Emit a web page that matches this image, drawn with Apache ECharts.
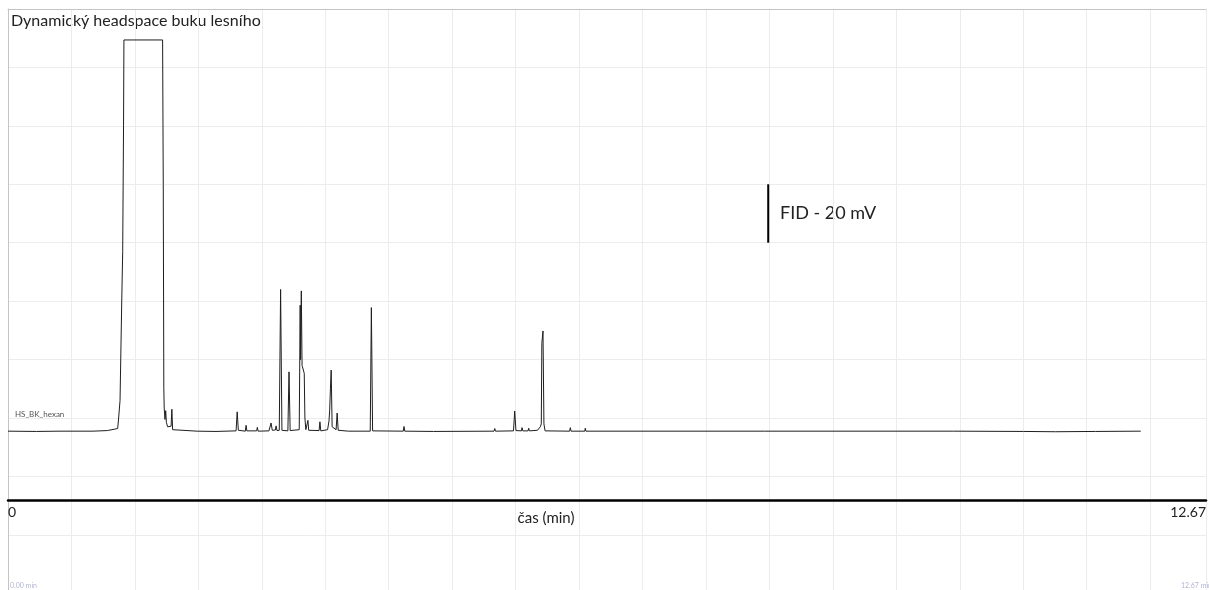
<!DOCTYPE html>
<html>
<head>
<meta charset="utf-8">
<script src="https://cdn.jsdelivr.net/npm/echarts@6/dist/echarts.min.js"></script>
<style>
html,body{margin:0;padding:0;background:#fff;}
#chart{width:1209px;height:590px;}
</style>
</head>
<body>
<div id="chart"></div>
<script>
// ---- data (time in min, FID signal in mV) ----
const timeMin = [
  0.000, 0.300, 0.550, 0.900, 1.050, 1.130, 1.160, 1.170, 1.185, 1.195, 1.203, 1.213, 1.222, 1.226,
  1.635, 1.642, 1.648, 1.652, 1.660, 1.668, 1.675, 1.688, 1.725, 1.733, 1.741, 1.755,
  2.000, 2.200, 2.412, 2.424, 2.436, 2.450, 2.510, 2.518, 2.526, 2.630, 2.637, 2.645,
  2.760, 2.782, 2.795, 2.828, 2.835, 2.845, 2.869, 2.883, 2.897, 2.960, 2.972, 2.984,
  3.080, 3.090, 3.094, 3.102, 3.110, 3.120, 3.126, 3.133, 3.140, 3.150, 3.165, 3.172, 3.180,
  3.290, 3.299, 3.308, 3.380, 3.395, 3.402, 3.410, 3.418, 3.428, 3.470, 3.481, 3.492,
  3.600, 3.831, 3.843, 3.856, 4.180, 4.188, 4.196, 4.500,
  5.140, 5.148, 5.156, 5.346, 5.359, 5.372, 5.430, 5.436, 5.445, 5.500, 5.507, 5.515,
  5.600, 5.630, 5.640, 5.646, 5.658, 5.668, 5.680, 5.940, 5.947, 5.955, 6.100, 6.105, 6.112,
  7.000, 8.000, 9.000, 10.000, 10.740, 11.080, 11.500, 11.980
];
const signalMv = [
  15.5, 15.4, 15.5, 15.5, 15.7, 16.2, 16.4, 20.0, 26.0, 45.0, 60.0, 77.0, 120.0, 149.4,
  149.4, 100.0, 30.0, 23.4, 19.5, 22.5, 18.5, 17.0, 17.2, 23.0, 16.0, 15.5,
  15.5, 15.4, 15.6, 22.1, 15.8, 15.9, 15.5, 17.5, 15.6, 15.6, 16.8, 15.5,
  15.6, 18.3, 15.8, 15.9, 17.3, 15.7, 15.8, 64.0, 15.8, 15.6, 35.8, 15.7,
  16.0, 58.6, 40.0, 63.5, 38.0, 37.5, 37.5, 35.3, 20.0, 16.0, 16.5, 19.2, 15.8,
  15.7, 18.7, 15.6, 16.0, 19.0, 22.7, 30.0, 36.4, 17.0, 16.0, 21.7, 15.8,
  15.5, 15.5, 57.8, 15.6, 15.5, 17.1, 15.5, 15.4,
  15.5, 16.4, 15.5, 15.6, 22.4, 15.7, 15.6, 16.7, 15.6, 15.6, 16.5, 15.6,
  15.8, 17.0, 18.0, 45.6, 49.8, 18.0, 15.6, 15.5, 16.7, 15.5, 15.5, 16.5, 15.5,
  15.5, 15.5, 15.5, 15.5, 15.4, 15.3, 15.4, 15.5
];
const scaleBarTime = 8.04;
const scaleBarMv = [80, 100];
const axisTicks = [0, 12.67];

const chart = echarts.init(document.getElementById('chart'), null, {renderer:'canvas'});
const font = 'Lato, "Open Sans", sans-serif';
const trace = timeMin.map((t, i) => [t, signalMv[i]]);
const bar = scaleBarMv.map(v => [scaleBarTime, v]);

// plot area: top 9px, bottom at 590px; 20 mV per grid division of ~58.43px
const gridTop = 9, gridHeight = 581, divPx = 58.43, mvPerDiv = 20;
const yMax = 160;
const yMin = yMax - gridHeight / divPx * mvPerDiv;

chart.setOption({
  animation: false,
  backgroundColor: '#fff',
  grid: {left: 8, right: 0, top: gridTop, height: gridHeight, containLabel: false},
  xAxis: [
    {
      type: 'value', min: axisTicks[0], max: axisTicks[1], interval: axisTicks[1],
      position: 'bottom', offset: -90,
      axisLine: {show: true, onZero: false, lineStyle: {color: '#000', width: 2.5}},
      axisTick: {show: false},
      splitLine: {show: false},
      axisLabel: {
        show: true, margin: 5, color: '#222', fontFamily: font, fontSize: 14,
        showMinLabel: true, showMaxLabel: true,
        alignMinLabel: 'left', alignMaxLabel: 'right',
        formatter: v => String(Math.round(v * 100) / 100)
      }
    },
    {
      type: 'value', min: 0, max: 12.67, interval: 0.6711, position: 'top',
      axisLine: {show: true, onZero: false, lineStyle: {color: '#c4c4c4', width: 1}},
      axisTick: {show: false}, axisLabel: {show: false},
      splitLine: {show: true, lineStyle: {color: '#ececec', width: 1}}
    }
  ],
  yAxis: [
    {
      type: 'value', min: yMin, max: yMax,
      axisLine: {show: true, onZero: false, lineStyle: {color: '#c4c4c4', width: 1}},
      axisTick: {show: false}, axisLabel: {show: false},
      splitLine: {show: false}
    },
    {
      type: 'value', min: 0, max: gridHeight / divPx, interval: 1, inverse: true,
      axisLine: {show: false}, axisTick: {show: false}, axisLabel: {show: false},
      splitLine: {show: true, lineStyle: {color: '#ececec', width: 1}}
    }
  ],
  series: [
    {
      type: 'line', xAxisIndex: 0, yAxisIndex: 0, data: trace,
      showSymbol: false, symbol: 'none',
      lineStyle: {color: '#1e1e1e', width: 1}
    },
    {
      type: 'line', xAxisIndex: 0, yAxisIndex: 0, data: bar,
      showSymbol: false, symbol: 'none',
      lineStyle: {color: '#000', width: 2}
    }
  ],
  graphic: [
    {type: 'text', x: 11, y: 21, style: {text: 'Dynamický headspace buku lesního', font: '16px ' + font, fill: '#222', verticalAlign: 'middle'}},
    {type: 'text', x: 780, y: 213, style: {text: 'FID - 20 mV', font: '18px ' + font, fill: '#222', verticalAlign: 'middle'}},
    {type: 'text', x: 15, y: 414, style: {text: 'HS_BK_hexan', font: '8px ' + font, fill: '#555', verticalAlign: 'middle'}},
    {type: 'text', x: 546, y: 518, style: {text: 'čas (min)', font: '15px ' + font, fill: '#222', align: 'center', verticalAlign: 'middle'}},
    {type: 'text', x: 10, y: 586, style: {text: '0.00 min', font: '7px ' + font, fill: '#b4b4d4', verticalAlign: 'middle'}},
    {type: 'text', x: 1181, y: 586, style: {text: '12.67 min', font: '7px ' + font, fill: '#b4b4d4', verticalAlign: 'middle'}}
  ]
});
</script>
</body>
</html>
